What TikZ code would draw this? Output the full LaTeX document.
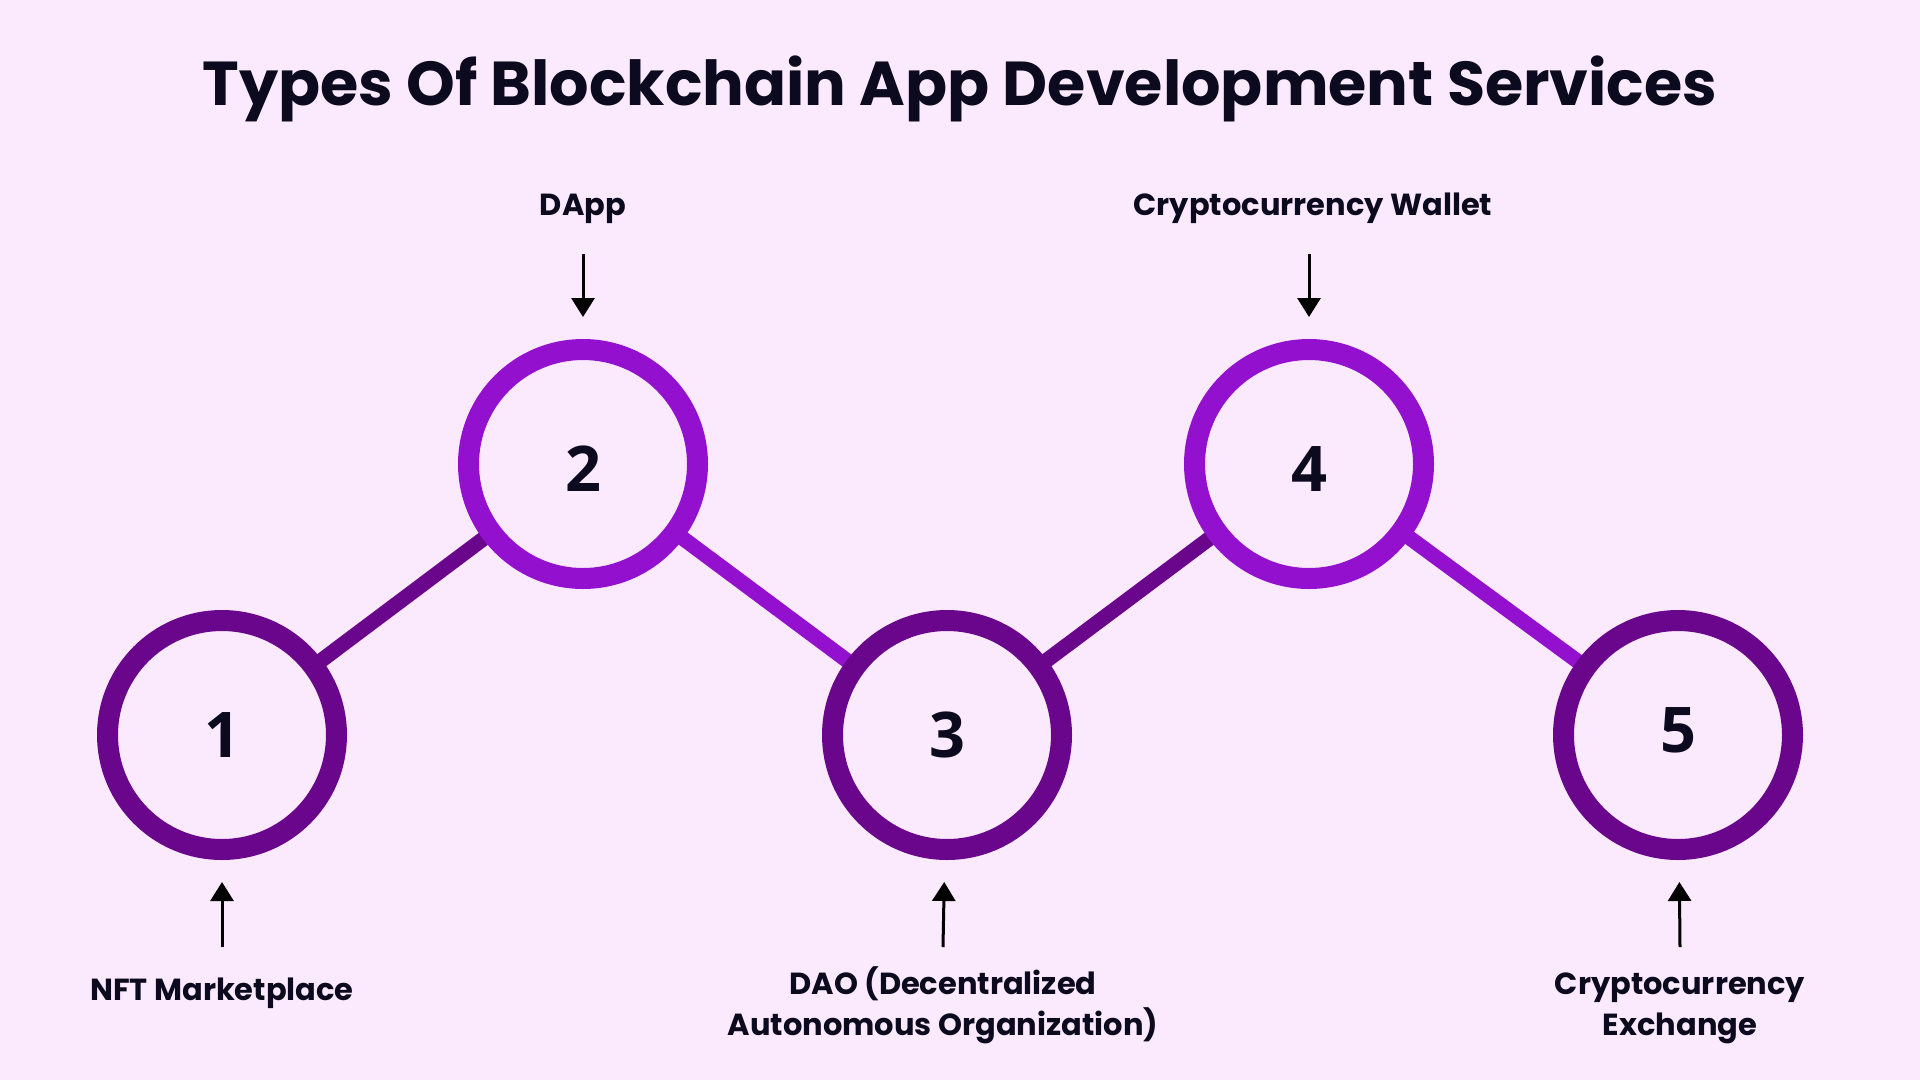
\documentclass[tikz,border=0pt]{standalone}
\usepackage{fontspec}
\setmainfont{Poppins}[BoldFont={Poppins Bold}]
\newfontfamily\numfont{Open Sans}
\usetikzlibrary{arrows.meta}
\definecolor{bg}{HTML}{FBEAFD}
\definecolor{dark}{HTML}{69068B}
\definecolor{bright}{HTML}{9410CF}
\definecolor{ink}{HTML}{0C0A1E}
\pgfdeclarelayer{lines}
\pgfsetlayers{lines,main}
\tikzset{
  ring/.style={circle, minimum size=229pt, line width=21pt, fill=bg, inner sep=0pt,
    font=\numfont\bfseries\fontsize{63}{63}\selectfont, text=ink},
  darkring/.style={ring, draw=dark},
  brightring/.style={ring, draw=bright},
  link/.style={line width=15pt},
  lbl/.style={font=\bfseries\fontsize{30.5}{41}\selectfont, text=ink, align=center, inner sep=0pt},
  arr/.style={line width=3pt, black, -{Triangle[length=19pt,width=23pt]}, shorten >=22pt},
}
\begin{document}
\begin{tikzpicture}[x=1pt,y=-1pt]
\useasboundingbox (0,0) rectangle (1920,1080);
\begin{pgfonlayer}{lines}
\fill[bg] (0,0) rectangle (1920,1080);
\end{pgfonlayer}

\node[font=\bfseries\fontsize{62}{62}\selectfont, text=ink, anchor=base, inner sep=0pt] (title) at (960,105) {Types Of Blockchain App Development Services};

\node[darkring] (c1) at (222,735) {1};
\node[brightring] (c2) at (583,464) {\raisebox{-5pt}[\height][\depth]{2}};
\node[darkring] (c3) at (947,735) {3};
\node[brightring] (c4) at (1309,464) {\raisebox{-5pt}[\height][\depth]{4}};
\node[darkring] (c5) at (1678,735) {\raisebox{5pt}[\height][\depth]{5}};

\begin{pgfonlayer}{lines}
\draw[link, dark] (c1.center) -- (c2.center);
\draw[link, bright] (c2.center) -- (c3.center);
\draw[link, dark] (c3.center) -- (c4.center);
\draw[link, bright] (c4.center) -- (c5.center);
\end{pgfonlayer}

\node[lbl, anchor=base] (l2) at (583,215) {DApp};
\node[lbl, anchor=base] (l4) at (1313,215) {Cryptocurrency Wallet};
\node[lbl, anchor=base] (l1) at (222,1000) {NFT Marketplace};
\node[lbl, anchor=base] (l3) at (943,1035) {DAO (Decentralized\\Autonomous Organization)};
\node[lbl, anchor=base] (l5) at (1680,1035) {Cryptocurrency\\Exchange};

\coordinate (t2) at (583,254);
\coordinate (t4) at (1309,254);
\coordinate (b1) at (222,947);
\coordinate (b3) at (943,947);
\coordinate (b5) at (1680,947);

\draw[arr] (t2) -- (c2);
\draw[arr] (t4) -- (c4);
\draw[arr] (b1) -- (c1);
\draw[arr] (b3) -- (c3);
\draw[arr] (b5) -- (c5);
\end{tikzpicture}
\end{document}
